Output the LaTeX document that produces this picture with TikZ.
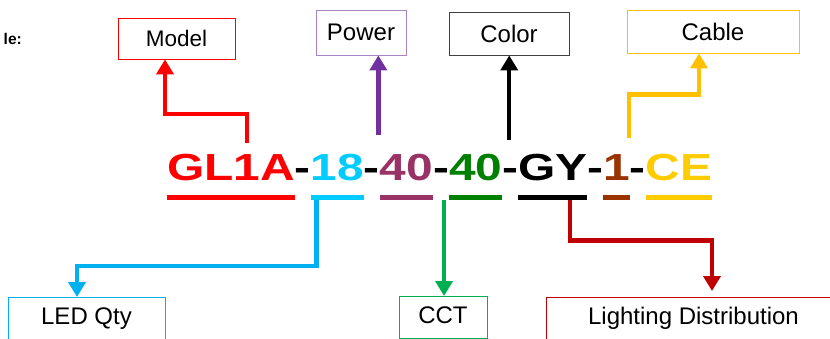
\documentclass[tikz,border=0pt]{standalone}
\usepackage{fontspec}
\setmainfont{Liberation Sans}
\newfontfamily\codefont[FakeStretch=1.27]{Liberation Sans}
\usetikzlibrary{positioning,arrows.meta}
\definecolor{modelred}{HTML}{FF0000}
\definecolor{ledcyan}{HTML}{00CCFF}
\definecolor{ledline}{HTML}{00B0F0}
\definecolor{powerplum}{HTML}{993366}
\definecolor{powerline}{HTML}{7030A0}
\definecolor{cctgreen}{HTML}{008000}
\definecolor{cctline}{HTML}{00B050}
\definecolor{distred}{HTML}{C00000}
\definecolor{onebrown}{HTML}{993300}
\definecolor{cablegold}{HTML}{FFCC00}
\definecolor{cableline}{HTML}{FFC000}
\definecolor{colorgray}{HTML}{404040}

\begin{document}
\begin{tikzpicture}[x=1bp,y=-1bp]
      \newcommand{\ulshift}[0]{-17.5bp}
      \newcommand{\footshift}[0]{-20bp}

      \useasboundingbox (0,0) rectangle (830,338);
      \clip (0,0) rectangle (830,338);

      \tikzstyle{codepart}=[
        inner sep=0pt,
        outer sep=0pt,
        font=\codefont\bfseries\fontsize{37.7bp}{40bp}\selectfont,
      ]
      \tikzstyle{field} = [
        draw,
        line width=0.8bp,
        inner sep=0pt,
        align=center,
        font=\fontsize{24bp}{28bp}\selectfont,
      ]
      \tikzstyle{fieldlow} = [
        field,
        anchor=north,
        text height=27bp,
        text depth=15bp,
      ]
      \tikzstyle{pointer} = [
        line width=4.5bp,
        -{Triangle[width=17bp,length=15bp]},
      ]
      \tikzstyle{uline} = [
        line width=5bp,
      ]

      % heading
      \node[anchor=base east, inner sep=0pt, font=\bfseries\fontsize{15.5bp}{18bp}\selectfont]
        (heading) at (22,44) {le:};

      % part number
      \node[codepart, anchor=base west, text=modelred] (cModel) at (167,180) {GL1A};
      \node[codepart, base right=0pt of cModel] (hI) {-};
      \node[codepart, base right=0pt of hI, text=ledcyan] (cQty) {18};
      \node[codepart, base right=0pt of cQty] (hII) {-};
      \node[codepart, base right=0pt of hII, text=powerplum] (cPower) {40};
      \node[codepart, base right=0pt of cPower] (hIII) {-};
      \node[codepart, base right=0pt of hIII, text=cctgreen] (cCCT) {40};
      \node[codepart, base right=0pt of cCCT] (hIV) {-};
      \node[codepart, base right=0pt of hIV] (cColor) {GY};
      \node[codepart, base right=0pt of cColor] (hV) {-};
      \node[codepart, base right=0pt of hV, text=onebrown] (cOne) {1};
      \node[codepart, base right=0pt of cOne] (hVI) {-};
      \node[codepart, base right=0pt of hVI, text=cablegold] (cCable) {CE};

      \draw[uline, modelred]  ([yshift=\ulshift] cModel.base west)  -- ([yshift=\ulshift] cModel.base east);
      \draw[uline, ledcyan]   ([yshift=\ulshift] cQty.base west)    -- ([yshift=\ulshift] cQty.base east);
      \draw[uline, powerplum] ([yshift=\ulshift] cPower.base west)  -- ([yshift=\ulshift] cPower.base east);
      \draw[uline, cctgreen]  ([yshift=\ulshift] cCCT.base west)    -- ([yshift=\ulshift] cCCT.base east);
      \draw[uline, black]     ([yshift=\ulshift] cColor.base west)  -- ([yshift=\ulshift] cColor.base east);
      \draw[uline, onebrown]  ([yshift=\ulshift] cOne.base west)    -- ([yshift=\ulshift] cOne.base east);
      \draw[uline, cablegold] ([yshift=\ulshift] cCable.base west)  -- ([yshift=\ulshift] cCable.base east);

      % upper fields
      \node[field, draw=modelred, minimum width=117bp, minimum height=41bp,
        font=\fontsize{22.5bp}{26bp}\selectfont] (model) at (176.5,38.5) {Model};
      \node[field, draw=powerline!60, minimum width=90bp, minimum height=45bp] (power) at (361,32.5) {Power};
      \node[field, draw=colorgray, minimum width=120bp, minimum height=43bp] (color) at (509,33.5) {Color};
      \node[field, draw=cableline, minimum width=172bp, minimum height=43bp] (cable) at (713,31.5) {Cable};

      % lower fields
      \node[fieldlow, draw=ledline, minimum width=157bp] (ledqty) at (86.5,297) {LED Qty};
      \node[fieldlow, draw=cctline, minimum width=88bp] (cct) at (443,296) {CCT};
      \node[fieldlow, draw=distred, minimum width=295bp] (dist) at (693.5,297) {Lighting Distribution};

      % pointers up
      \coordinate (modelbend) at (165,114);
      \draw[pointer, modelred] ([xshift=16bp,yshift=37bp] cModel.base) |- (modelbend) -- (modelbend |- model.south);

      \coordinate (powerfoot) at ([xshift=-1.5bp,yshift=45bp] cPower.base west);
      \draw[pointer, powerline] (powerfoot) -- (powerfoot |- power.south);

      \coordinate (colorfoot) at ([xshift=-9bp,yshift=40bp] cColor.base west);
      \draw[pointer, black] (colorfoot) -- (colorfoot |- color.south);

      \coordinate (cablebend) at (699,94.5);
      \draw[pointer, cableline] ([xshift=-1bp,yshift=42bp] cOne.base east) |- (cablebend) -- (cablebend |- cable.south);

      % pointers down
      \coordinate (qtybend) at (77,266);
      \draw[pointer, ledline] ([xshift=6bp,yshift=\footshift] cQty.base west) |- (qtybend) -- (qtybend |- ledqty.north);

      \coordinate (cctfoot) at ([xshift=-5bp,yshift=\footshift] cCCT.base west);
      \draw[pointer, cctline] (cctfoot) -- (cctfoot |- cct.north);

      \coordinate (distbend) at (712,240.5);
      \draw[pointer, distred, shorten >=6bp] ([xshift=52bp,yshift=\footshift] cColor.base west) |- (distbend) -- (distbend |- dist.north);
\end{tikzpicture}
\end{document}
